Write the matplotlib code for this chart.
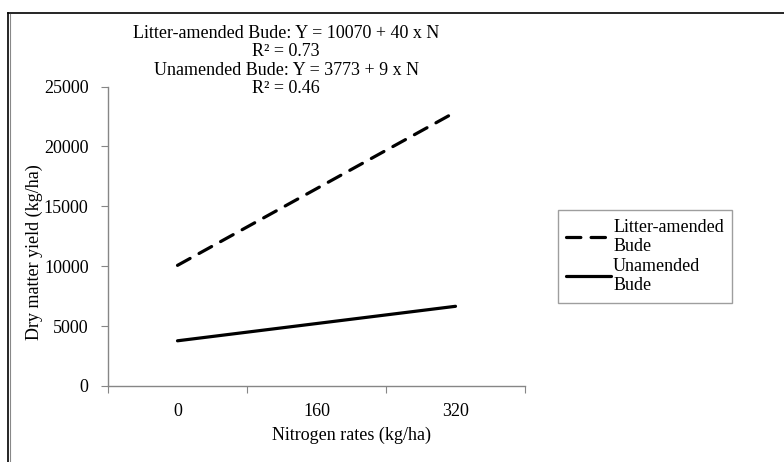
import matplotlib.pyplot as plt
from matplotlib.lines import Line2D

plt.rcParams['font.family'] = ['Liberation Serif', 'DejaVu Serif']

categories = ['0', '160', '320']
litter = [10070, 16470, 22870]
unamended = [3773, 5213, 6653]
eq_text = ("Litter-amended Bude: Y = 10070 + 40 x N\n"
           "R² = 0.73\n"
           "Unamended Bude: Y = 3773 + 9 x N\n"
           "R² = 0.46")
fs = 13

fig = plt.figure(figsize=(7.84, 4.62), dpi=100)
ax = fig.add_axes([108 / 784, 1 - 386 / 462, 417 / 784, 299.5 / 462])

x = list(range(len(categories)))
ax.plot(x, litter, color='black', lw=2.3, dashes=(4.5, 3.2),
        dash_capstyle='round', label='Litter-amended\nBude')
ax.plot(x, unamended, color='black', lw=2.3, solid_capstyle='round',
        label='Unamended\nBude')

ax.set_xlim(-0.5, 2.5)
ax.set_ylim(0, 25000)
ax.set_yticks(range(0, 25001, 5000))
ax.set_xticks([-0.5, 0.5, 1.5, 2.5], minor=False)
ax.set_xticklabels([])
ax.set_xticks(x, minor=True)
ax.set_xticklabels(categories, minor=True)
ax.tick_params(axis='x', which='minor', length=0, pad=12, labelsize=fs)
ax.tick_params(axis='x', which='major', length=5, color='#868686', direction='out')
ax.tick_params(axis='y', length=5, color='#868686', direction='out', labelsize=fs, pad=9)
for s in ['top', 'right']:
    ax.spines[s].set_visible(False)
for s in ['left', 'bottom']:
    ax.spines[s].set_color('#868686')
    ax.spines[s].set_linewidth(1)

ax.set_xlabel('Nitrogen rates (kg/ha)', fontsize=fs)
ax.set_ylabel('Dry matter yield (kg/ha)', fontsize=fs)
ax.xaxis.set_label_coords(0.585, -0.135)
ax.yaxis.set_label_coords(-0.155, 0.447)

fig.text(286 / 784, 1 - 25 / 462, eq_text, ha='center', va='top',
         fontsize=fs, linespacing=1.1)

leg = ax.legend(loc='center left', bbox_to_anchor=(558 / 784, 1 - 256.5 / 462),
                bbox_transform=fig.transFigure, fontsize=fs, frameon=True,
                fancybox=False, edgecolor='#868686', handlelength=2.5,
                handletextpad=0.1, borderpad=0.45, labelspacing=0.15,
                borderaxespad=0)
leg.get_frame().set_linewidth(1)

# partial outer frame
fig.add_artist(Line2D([8 / 784, 1], [1 - 13 / 462, 1 - 13 / 462],
                      transform=fig.transFigure, color='black', lw=1.2))
fig.add_artist(Line2D([8 / 784, 8 / 784], [0, 1 - 13 / 462],
                      transform=fig.transFigure, color='black', lw=1.2))
fig.add_artist(Line2D([9.5 / 784, 9.5 / 784], [0, 1 - 14 / 462],
                      transform=fig.transFigure, color='#888888', lw=0.8))

fig.savefig('out.png', dpi=100)
